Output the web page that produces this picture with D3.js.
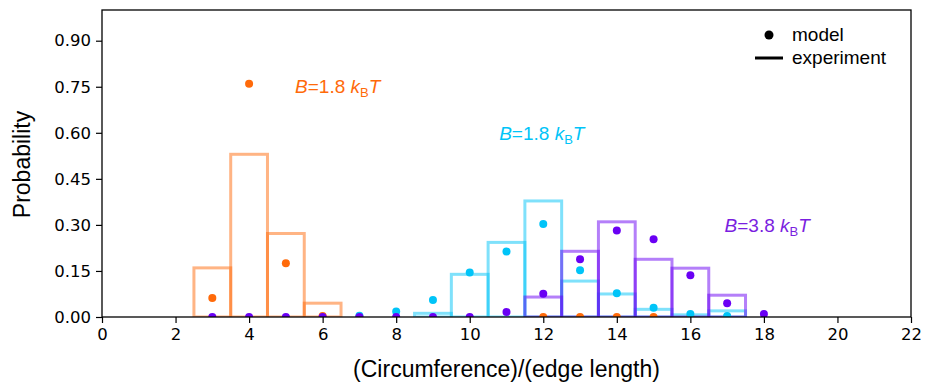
<!DOCTYPE html>
<html>
<head>
<meta charset="utf-8">
<script src="https://cdn.jsdelivr.net/npm/d3@7"></script>
<style>
  body { margin: 0; background: #fff; }
  .tick text { font-family: "DejaVu Sans", sans-serif; font-size: 16.5px; fill: #000; }
  .lbl { font-family: "Liberation Sans", Arial, sans-serif; }
</style>
</head>
<body>
<svg id="chart" width="925" height="383"></svg>
<script>
// bins (circumference / edge length)
var orangeModelX = [3, 4, 5, 6, 7, 12, 13, 14, 15, 16, 17],
    orangeModel  = [0.062, 0.76, 0.175, 0.003, 0.0, 0, 0, 0, 0, 0, 0],
    orangeExpX   = [3, 4, 5, 6],
    orangeExp    = [0.16, 0.53, 0.272, 0.045],

    cyanModelX = [7, 8, 9, 10, 11, 12, 13, 14, 15, 16, 17],
    cyanModel  = [0.004, 0.018, 0.055, 0.145, 0.213, 0.303, 0.152, 0.077, 0.03, 0.01, 0.003],
    cyanExpX   = [8, 9, 10, 11, 12, 13, 14, 15, 16, 17],
    cyanExp    = [0, 0.012, 0.139, 0.243, 0.378, 0.117, 0.075, 0.025, 0.007, 0.02],

    purpleModelX = [3, 4, 5, 6, 7, 8, 9, 10, 11, 12, 13, 14, 15, 16, 17, 18],
    purpleModel  = [0, 0, 0, 0, 0, 0, 0, 0, 0.016, 0.076, 0.188, 0.282, 0.253, 0.136, 0.045, 0.01],
    purpleExpX   = [3, 4, 5, 6, 7, 8, 9, 10, 11, 12, 13, 14, 15, 16, 17, 18],
    purpleExp    = [0, 0, 0, 0, 0, 0, 0, 0, 0, 0.065, 0.214, 0.31, 0.188, 0.159, 0.071, 0],

    xTicks = [0, 2, 4, 6, 8, 10, 12, 14, 16, 18, 20, 22],
    yTicks = [0, 0.15, 0.30, 0.45, 0.60, 0.75, 0.90];

var series = [
  {name: 'orange', color: '#ff6a0a', text: '#ff6a0a', mx: orangeModelX, m: orangeModel, ex: orangeExpX, e: orangeExp, label: '1.8', lx: 5.25, ly: 0.73},
  {name: 'cyan', color: '#00c4f8', text: '#00c4f8', mx: cyanModelX, m: cyanModel, ex: cyanExpX, e: cyanExp, label: '1.8', lx: 10.8, ly: 0.575},
  {name: 'purple', color: '#6a00f4', text: '#7a1ee0', mx: purpleModelX, m: purpleModel, ex: purpleExpX, e: purpleExp, label: '3.8', lx: 16.93, ly: 0.276}
];

var osvg = d3.select('#chart'),
    margin = {left: 102, top: 10, right: 14, bottom: 66},
    width = +osvg.attr('width') - margin.left - margin.right,
    height = +osvg.attr('height') - margin.top - margin.bottom,
    svg = osvg.append('g').attr('transform', 'translate(' + margin.left + ',' + margin.top + ')');

var x = d3.scaleLinear().domain([0, 22]).range([0, width]),
    y = d3.scaleLinear().domain([0, 1.0]).range([height, 0]);

osvg.append('defs').append('clipPath').attr('id', 'clip')
  .append('rect').attr('width', width).attr('height', height);

var plot = svg.append('g').attr('clip-path', 'url(#clip)');

// experiment bars (outlined)
series.forEach(function(s) {
  plot.append('g').selectAll('rect')
    .data(s.e.map(function(v, i) { return {x: s.ex[i], v: v}; }))
    .enter().append('rect')
      .attr('x', function(d) { return x(d.x - 0.5); })
      .attr('y', function(d) { return y(d.v); })
      .attr('width', x(1) - x(0))
      .attr('height', function(d) { return y(0) - y(d.v); })
      .attr('fill', 'none')
      .attr('stroke', s.color)
      .attr('stroke-opacity', 0.5)
      .attr('stroke-width', 3);
});

// model dots
series.forEach(function(s) {
  plot.append('g').selectAll('circle')
    .data(s.m.map(function(v, i) { return {x: s.mx[i], v: v}; }))
    .enter().append('circle')
      .attr('cx', function(d) { return x(d.x); })
      .attr('cy', function(d) { return y(d.v); })
      .attr('r', 4)
      .attr('fill', s.color);
});

// frame
svg.append('rect').attr('width', width).attr('height', height)
  .attr('fill', 'none').attr('stroke', '#000').attr('stroke-width', 1.3);

var xAxis = svg.append('g').attr('transform', 'translate(0,' + height + ')')
  .call(d3.axisBottom(x).tickValues(xTicks).tickFormat(d3.format('d')).tickSize(6).tickPadding(5));
var yAxis = svg.append('g')
  .call(d3.axisLeft(y).tickValues(yTicks).tickFormat(d3.format('.2f')).tickSize(6).tickPadding(5));
[xAxis, yAxis].forEach(function(a) {
  a.select('.domain').remove();
  a.selectAll('.tick line').attr('stroke', '#000').attr('stroke-width', 1.2);
});

// axis labels
osvg.append('text').attr('class', 'lbl')
  .attr('x', margin.left + width / 2).attr('y', 377)
  .attr('text-anchor', 'middle').attr('font-size', 23)
  .text('(Circumference)/(edge length)');
osvg.append('text').attr('class', 'lbl')
  .attr('transform', 'translate(30,' + (margin.top + height / 2 + 1) + ') rotate(-90)')
  .attr('text-anchor', 'middle').attr('font-size', 23)
  .text('Probability');

// B annotations
series.forEach(function(s) {
  var t = svg.append('text').attr('class', 'lbl')
    .attr('x', x(s.lx)).attr('y', y(s.ly))
    .attr('font-size', 19).attr('fill', s.text);
  t.append('tspan').attr('font-style', 'italic').text('B');
  t.append('tspan').text('=' + s.label + ' ');
  t.append('tspan').attr('font-style', 'italic').text('k');
  t.append('tspan').attr('font-size', 13).attr('dy', 4).text('B');
  t.append('tspan').attr('font-style', 'italic').attr('dy', -4).text('T');
});

// legend
var leg = osvg.append('g');
leg.append('circle').attr('cx', 769).attr('cy', 35).attr('r', 4.5).attr('fill', '#000');
leg.append('line').attr('x1', 755).attr('x2', 783).attr('y1', 58).attr('y2', 58)
  .attr('stroke', '#000').attr('stroke-width', 3);
leg.append('text').attr('class', 'lbl').attr('x', 792).attr('y', 41).attr('font-size', 19).text('model');
leg.append('text').attr('class', 'lbl').attr('x', 792).attr('y', 64).attr('font-size', 19).text('experiment');
</script>
</body>
</html>
